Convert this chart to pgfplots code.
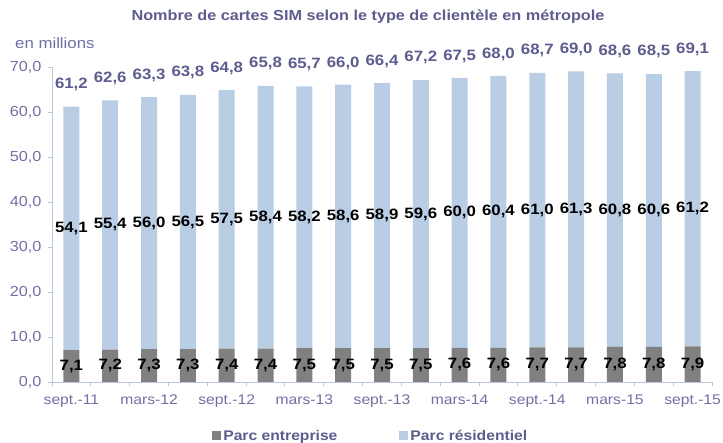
\documentclass[border=0pt]{standalone}
\usepackage{fontspec}
\setmainfont{Liberation Sans}[FakeStretch=1.12]
\usepackage{pgfplots}
\pgfplotsset{compat=1.18}
\usepackage{pgfplotstable}

\definecolor{titlec}{RGB}{92,92,142}
\definecolor{tickc}{RGB}{112,112,165}
\definecolor{axisc}{RGB}{185,200,212}
\definecolor{entc}{RGB}{128,128,128}
\definecolor{resc}{RGB}{185,205,229}

% quarterly SIM cards, millions
\pgfplotstableread{
idx ent res tot
0  7.1 54.1 61.2
1  7.2 55.4 62.6
2  7.3 56.0 63.3
3  7.3 56.5 63.8
4  7.4 57.5 64.8
5  7.4 58.4 65.8
6  7.5 58.2 65.7
7  7.5 58.6 66.0
8  7.5 58.9 66.4
9  7.5 59.6 67.2
10 7.6 60.0 67.5
11 7.6 60.4 68.0
12 7.7 61.0 68.7
13 7.7 61.3 69.0
14 7.8 60.8 68.6
15 7.8 60.6 68.5
16 7.9 61.2 69.1
}\simdata

\pgfplotsset{
  simbase/.style={
    scale only axis, width=660pt, height=315pt,
    at={(52pt,61pt)}, anchor=south west,
    xmin=-0.5, xmax=16.5, ymin=0, ymax=70,
  },
  lbl/.style={
    nodes near coords={\pgfmathprintnumber[fixed,fixed zerofill,precision=1,use comma,assume math mode=true]{\pgfplotspointmeta}},
    point meta=explicit,
  },
}

\begin{document}
\begin{tikzpicture}
\path[use as bounding box] (0,0) rectangle (723pt,443pt);

\begin{axis}[simbase,
    ybar stacked, bar width=16pt,
    axis x line*=bottom, axis y line*=left,
    axis line style={axisc, line width=0.9pt},
    tick style={axisc, line width=0.9pt},
    tick align=outside, major tick length=4pt,
    ytick={0,10,...,70},
    yticklabel={\pgfmathprintnumber[fixed,fixed zerofill,precision=1,use comma,assume math mode=true]{\tick}},
    yticklabel style={text=tickc, font=\fontsize{14.5}{16}\selectfont, xshift=-3pt},
    xtick={-0.5,0.5,...,16.5},
    xticklabels={},
    extra x ticks={0,2,4,6,8,10,12,14,16},
    extra x tick labels={sept.-11,mars-12,sept.-12,mars-13,sept.-13,mars-14,sept.-14,mars-15,sept.-15},
    extra x tick style={major tick length=0pt,
      xticklabel style={text=tickc, font=\fontsize{14}{16}\selectfont, yshift=-9pt}},
    legend style={at={(0.483,-0.171)}, anchor=center, draw=none, fill=none,
      legend columns=2, font=\bfseries\fontsize{14}{16}\selectfont, text=titlec,
      /tikz/every even column/.append style={column sep=60pt}},
    legend image code/.code={\fill[#1] (0pt,-4.5pt) rectangle (9pt,4.5pt);},
  ]
  \addplot[fill=entc, draw=none] table[x=idx, y=ent]{\simdata};
  \addlegendentry{Parc entreprise}
  \addplot[fill=resc, draw=none] table[x=idx, y=res]{\simdata};
  \addlegendentry{Parc résidentiel}
\end{axis}

\begin{axis}[simbase, hide axis, clip=false, lbl]
  \addplot[draw=none, mark=none,
    every node near coord/.append style={anchor=center, text=black,
      font=\bfseries\fontsize{15}{17}\selectfont}]
    table[x=idx, y expr=\thisrow{ent}/2, meta=ent]{\simdata};
  \addplot[draw=none, mark=none,
    every node near coord/.append style={anchor=center, text=black,
      font=\bfseries\fontsize{15}{17}\selectfont}]
    table[x=idx, y expr=\thisrow{ent}+\thisrow{res}/2, meta=res]{\simdata};
  \addplot[draw=none, mark=none,
    every node near coord/.append style={anchor=center, yshift=22pt, text=titlec,
      font=\bfseries\fontsize{15}{17}\selectfont}]
    table[x=idx, y=tot, meta=tot]{\simdata};
\end{axis}

\node[text=titlec, font=\bfseries\fontsize{14.5}{16}\selectfont] at (368pt,426pt)
  {Nombre de cartes SIM selon le type de clientèle en métropole};
\node[text=tickc, font=\fontsize{15}{17}\selectfont, anchor=west, inner sep=0pt] at (15pt,400pt)
  {en millions};
\end{tikzpicture}
\end{document}
